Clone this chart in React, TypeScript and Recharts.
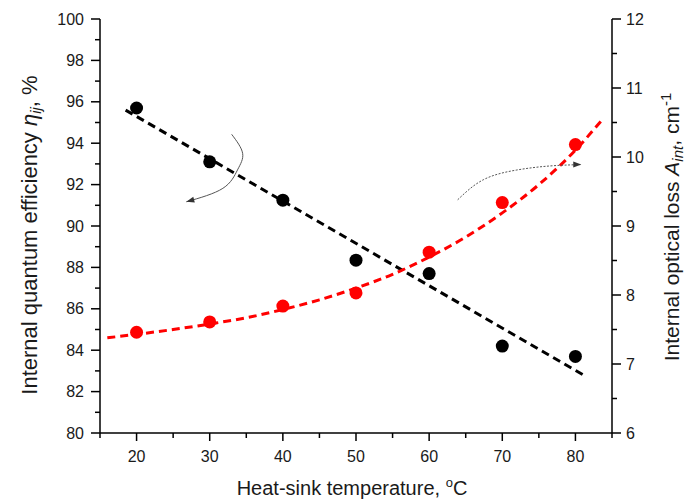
import { ComposedChart, Line, Scatter, XAxis, YAxis } from 'recharts'

// measured points
const temps = [20, 30, 40, 50, 60, 70, 80]
const efficiency = [95.7, 93.1, 91.25, 88.35, 87.7, 84.2, 83.7]
const opticalLoss = [7.46, 7.61, 7.84, 8.03, 8.62, 9.34, 10.18]

// fitted curves, read at a handful of temperatures
const effFitT = [18.5, 81.1]
const effFitV = [95.6, 82.8]
const lossFitT = [16, 20, 25, 30, 35, 40, 45, 50, 55, 60, 65, 70, 75, 80, 83.5]
const lossFitV = [7.38, 7.43, 7.5, 7.58, 7.67, 7.79, 7.93, 8.1, 8.3, 8.55, 8.84, 9.19, 9.6, 10.1, 10.52]

// curved pointer arrows (temperature, axis value)
const leftArrowT = [33.0, 34.5, 33.8, 31.8, 26.8]
const leftArrowV = [94.43, 93.51, 92.71, 91.82, 91.17]
const rightArrowT = [63.9, 67.4, 71.9, 76.5, 80.8]
const rightArrowV = [9.38, 9.67, 9.81, 9.87, 9.89]

const xTicks = [15, 20, 25, 30, 35, 40, 45, 50, 55, 60, 65, 70, 75, 80, 85]
const leftTicks = [80, 81, 82, 83, 84, 85, 86, 87, 88, 89, 90, 91, 92, 93, 94, 95, 96, 97, 98, 99, 100]
const rightTicks = [6, 6.5, 7, 7.5, 8, 8.5, 9, 9.5, 10, 10.5, 11, 11.5, 12]

const zip = (xs: number[], ys: number[]) => xs.map((x, i) => ({ x, y: ys[i] }))

const FONT = '"Liberation Sans", Arial, sans-serif'
const tickText = { fontFamily: FONT, fontSize: 16, fill: '#1a1a1a' }

const BottomTick = ({ x, y, payload }: any) => {
  const major = payload.value % 10 === 0
  return (
    <g>
      <line x1={x} x2={x} y1={y} y2={y + (major ? 8 : 5)} stroke="#000" strokeWidth={1.5} />
      {major && (
        <text x={x} y={y + 29} textAnchor="middle" {...tickText}>{payload.value}</text>
      )}
    </g>
  )
}

const LeftTick = ({ x, y, payload }: any) => {
  const major = payload.value % 2 === 0
  return (
    <g>
      <line x1={x} x2={x - (major ? 9 : 5)} y1={y} y2={y} stroke="#000" strokeWidth={1.5} />
      {major && (
        <text x={x - 16} y={y + 5.5} textAnchor="end" {...tickText}>{payload.value}</text>
      )}
    </g>
  )
}

const RightTick = ({ x, y, payload }: any) => {
  const major = Number.isInteger(payload.value)
  return (
    <g>
      <line x1={x} x2={x + (major ? 9 : 5)} y1={y} y2={y} stroke="#000" strokeWidth={1.5} />
      {major && (
        <text x={x + 14} y={y + 5.5} textAnchor="start" {...tickText}>{payload.value}</text>
      )}
    </g>
  )
}

const dotShape = (color: string) => (p: any) => <circle cx={p.cx} cy={p.cy} r={6.5} fill={color} />

const arrowHead = (last: number, angle: number) => (p: any) =>
  p.index === last ? (
    <polygon
      key={`ah-${p.index}`}
      points="0,0 -8,-3 -8,3"
      transform={`translate(${p.cx},${p.cy}) rotate(${angle})`}
      fill="#333"
    />
  ) : (
    <g key={`ah-${p.index}`} />
  )

const titleStyle = { fontFamily: FONT, fontSize: 20, fill: '#1a1a1a' }

export default function App() {
  return (
    <div style={{ position: 'fixed', left: 0, top: 0, background: '#fff' }}>
      <ComposedChart width={687} height={503} margin={{ top: 19, right: 0, bottom: 0, left: 0 }}>
        <XAxis
          type="number"
          dataKey="x"
          domain={[15, 85]}
          ticks={xTicks}
          interval={0}
          tickSize={0}
          tickMargin={0}
          height={70}
          axisLine={{ stroke: '#000', strokeWidth: 1.5 }}
          tickLine={false}
          tick={<BottomTick />}
          label={{
            content: () => (
              <text x={352} y={495} textAnchor="middle" {...titleStyle}>
                Heat-sink temperature, <tspan dy={-8} fontSize={13}>o</tspan>
                <tspan dy={8}>C</tspan>
              </text>
            ),
          }}
        />
        <YAxis
          yAxisId="left"
          orientation="left"
          type="number"
          domain={[80, 100]}
          ticks={leftTicks}
          interval={0}
          width={100}
          tickSize={0}
          tickMargin={0}
          axisLine={{ stroke: '#000', strokeWidth: 1.5 }}
          tickLine={false}
          tick={<LeftTick />}
          label={{
            content: () => (
              <text transform="translate(37,235) rotate(-90)" textAnchor="middle" {...titleStyle} fontSize={22}>
                Internal quantum efficiency <tspan fontStyle="italic">η</tspan>
                <tspan fontStyle="italic" fontSize={15} dy={4}>ij</tspan>
                <tspan dy={-4}>, %</tspan>
              </text>
            ),
          }}
        />
        <YAxis
          yAxisId="right"
          orientation="right"
          type="number"
          domain={[6, 12]}
          ticks={rightTicks}
          interval={0}
          width={75}
          tickSize={0}
          tickMargin={0}
          axisLine={{ stroke: '#000', strokeWidth: 1.5 }}
          tickLine={false}
          tick={<RightTick />}
          label={{
            content: () => (
              <text transform="translate(679,227) rotate(-90)" textAnchor="middle" {...titleStyle} fontSize={21}>
                Internal optical loss <tspan fontStyle="italic">A</tspan>
                <tspan fontStyle="italic" fontSize={15} dy={4}>int</tspan>
                <tspan dy={-4}>, cm</tspan>
                <tspan fontSize={15} dy={-8}>-1</tspan>
              </text>
            ),
          }}
        />

        <Line
          yAxisId="left"
          data={zip(effFitT, effFitV)}
          dataKey="y"
          type="linear"
          stroke="#000"
          strokeWidth={3}
          strokeDasharray="8 5"
          dot={false}
          activeDot={false}
          isAnimationActive={false}
        />
        <Line
          yAxisId="right"
          data={zip(lossFitT, lossFitV)}
          dataKey="y"
          type="monotone"
          stroke="#ff0000"
          strokeWidth={3}
          strokeDasharray="8 5"
          dot={false}
          activeDot={false}
          isAnimationActive={false}
        />
        <Line
          yAxisId="left"
          data={zip(leftArrowT, leftArrowV)}
          dataKey="y"
          type="natural"
          stroke="#555"
          strokeWidth={1}
          dot={arrowHead(leftArrowT.length - 1, 165)}
          activeDot={false}
          isAnimationActive={false}
        />
        <Line
          yAxisId="right"
          data={zip(rightArrowT, rightArrowV)}
          dataKey="y"
          type="natural"
          stroke="#555"
          strokeWidth={1}
          strokeDasharray="2 1.5"
          dot={arrowHead(rightArrowT.length - 1, 0)}
          activeDot={false}
          isAnimationActive={false}
        />

        <Scatter
          yAxisId="left"
          data={zip(temps, efficiency)}
          dataKey="y"
          shape={dotShape('#000')}
          isAnimationActive={false}
        />
        <Scatter
          yAxisId="right"
          data={zip(temps, opticalLoss)}
          dataKey="y"
          shape={dotShape('#ff0000')}
          isAnimationActive={false}
        />
      </ComposedChart>
    </div>
  )
}
